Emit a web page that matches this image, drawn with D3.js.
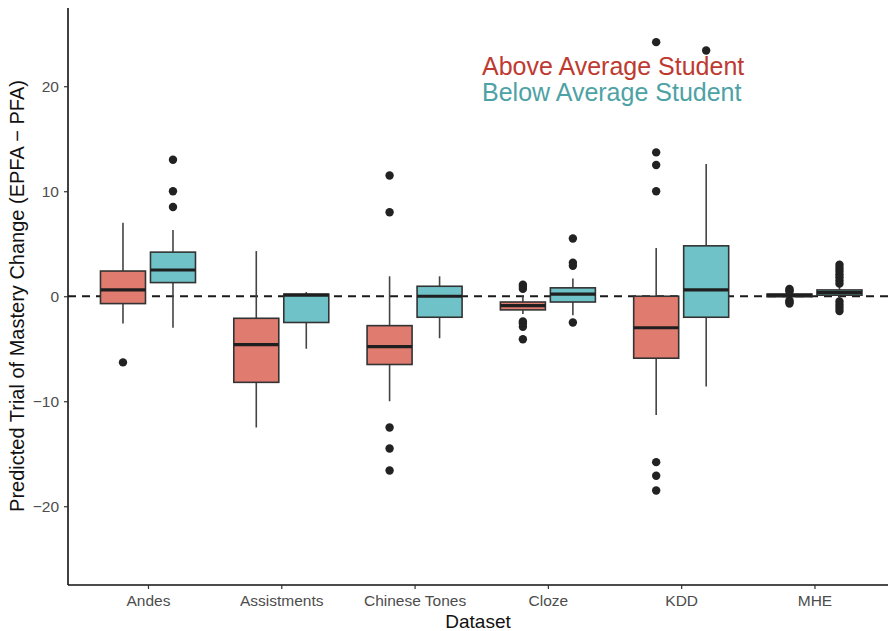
<!DOCTYPE html>
<html>
<head>
<meta charset="utf-8">
<script src="https://cdn.jsdelivr.net/npm/d3@7"></script>
<style>
  html, body { margin: 0; padding: 0; background: #fff; }
  svg { display: block; font-family: "Liberation Sans", Arial, Helvetica, sans-serif; }
</style>
</head>
<body>
<svg id="chart" width="888" height="631"></svg>
<script>
// Datasets on the x axis
const categories = ["Andes", "Assistments", "Chinese Tones", "Cloze", "KDD", "MHE"];
const groups = ["Above Average Student", "Below Average Student"];

// Box statistics per dataset: [lower whisker, Q1, median, Q3, upper whisker]
const aboveStats = [
  [-2.6, -0.7, 0.6, 2.4, 7.0],
  [-12.5, -8.2, -4.6, -2.1, 4.3],
  [-10.0, -6.5, -4.8, -2.8, 1.9],
  [-1.7, -1.3, -0.9, -0.55, 0.0],
  [-11.3, -5.9, -3.0, 0.0, 4.6],
  [-0.25, -0.05, 0.1, 0.2, 0.35]
];
const belowStats = [
  [-3.0, 1.3, 2.5, 4.2, 6.3],
  [-5.0, -2.5, 0.1, 0.2, 0.4],
  [-4.0, -2.0, 0.0, 0.95, 1.9],
  [-1.8, -0.55, 0.2, 0.8, 1.7],
  [-8.6, -2.0, 0.6, 4.8, 12.6],
  [-0.3, 0.1, 0.35, 0.6, 0.9]
];

// Outlying points per dataset
const aboveOutliers = [
  [-6.3],
  [],
  [11.5, 8.0, -12.5, -14.5, -16.6],
  [1.1, 0.9, 0.7, -2.4, -2.6, -2.9, -4.1],
  [24.2, 13.7, 12.5, 10.0, -15.8, -17.1, -18.5],
  [0.7, 0.55, 0.45, -0.4, -0.55, -0.7]
];
const belowOutliers = [
  [13.0, 10.0, 8.5],
  [],
  [],
  [5.5, 3.2, 2.9, -2.5],
  [23.4],
  [3.0, 2.7, 2.4, 2.1, 1.8, 1.5, 1.2, -0.5, -0.8, -1.1, -1.4]
];

// Tick values on the y axis
const yTicks = [-20, -10, 0, 10, 20];

const fills = ["#E07B6F", "#6FC3C8"];
const legendColors = ["#BE3A31", "#4DA2A5"];

const svg = d3.select("#chart");
const margin = { left: 68, top: 8, bottom: 46 };
const H = 631;

// Discrete axis padded by 0.6 of a step on each side
const step = 133.3;
const x = d3.scaleLinear()
  .domain([0, categories.length - 1])
  .range([margin.left + 0.6 * step, margin.left + 0.6 * step + step * (categories.length - 1)]);
const y = d3.scaleLinear().domain([-27.5, 27.45]).range([H - margin.bottom, margin.top]);

const dodge = 25;   // half distance between paired boxes
const boxW = 45;

// Reference line at zero
svg.append("line")
  .attr("x1", margin.left).attr("x2", 888)
  .attr("y1", y(0)).attr("y2", y(0))
  .attr("stroke", "#1a1a1a").attr("stroke-width", 2)
  .attr("stroke-dasharray", "8,6");

const series = [
  { stats: aboveStats, outliers: aboveOutliers, off: -dodge, fill: fills[0] },
  { stats: belowStats, outliers: belowOutliers, off: dodge, fill: fills[1] }
];

series.forEach(s => {
  const g = svg.append("g");
  s.stats.forEach((st, i) => {
    const cx = x(i) + s.off;
    const [lo, q1, med, q3, hi] = st;
    // whiskers
    g.append("line").attr("x1", cx).attr("x2", cx).attr("y1", y(hi)).attr("y2", y(q3))
      .attr("stroke", "#444").attr("stroke-width", 1.6);
    g.append("line").attr("x1", cx).attr("x2", cx).attr("y1", y(q1)).attr("y2", y(lo))
      .attr("stroke", "#444").attr("stroke-width", 1.6);
    // box
    g.append("rect")
      .attr("x", cx - boxW / 2).attr("width", boxW)
      .attr("y", y(q3)).attr("height", Math.max(1, y(q1) - y(q3)))
      .attr("fill", s.fill).attr("stroke", "#333").attr("stroke-width", 1.6);
    // median
    g.append("line").attr("x1", cx - boxW / 2).attr("x2", cx + boxW / 2)
      .attr("y1", y(med)).attr("y2", y(med))
      .attr("stroke", "#1f1f1f").attr("stroke-width", 3.2);
    // outliers
    s.outliers[i].forEach(v => {
      g.append("circle").attr("cx", cx).attr("cy", y(v)).attr("r", 4.2).attr("fill", "#222");
    });
  });
});

// Y axis
const yAxis = svg.append("g").attr("transform", `translate(${margin.left},0)`)
  .call(d3.axisLeft(y).tickValues(yTicks).tickSize(4).tickPadding(5)
    .tickFormat(d => d < 0 ? "\u2212" + Math.abs(d) : d));
yAxis.select(".domain").attr("stroke", "#111").attr("stroke-width", 1.6)
  .attr("d", `M0,${y.range()[1]}V${y.range()[0]}`);
yAxis.selectAll(".tick line").attr("stroke", "#333").attr("stroke-width", 1.2);
yAxis.selectAll(".tick text").attr("fill", "#4d4d4d").style("font-size", "15.5px");

// X axis
const xAxis = svg.append("g").attr("transform", `translate(0,${y.range()[0]})`)
  .call(d3.axisBottom(x).tickValues(d3.range(categories.length)).tickSize(4).tickPadding(6)
    .tickFormat(i => categories[i]));
xAxis.select(".domain").attr("stroke", "#111").attr("stroke-width", 1.6)
  .attr("d", `M${margin.left},0H888`);
xAxis.selectAll(".tick line").attr("stroke", "#333").attr("stroke-width", 1.2);
xAxis.selectAll(".tick text").attr("fill", "#4d4d4d").style("font-size", "15.5px");

// Axis titles
svg.append("text")
  .attr("x", 478).attr("y", 628)
  .attr("text-anchor", "middle").attr("fill", "#111").style("font-size", "19px")
  .text("Dataset");
svg.append("text")
  .attr("transform", `translate(24,${296}) rotate(-90)`)
  .attr("text-anchor", "middle").attr("fill", "#111").style("font-size", "20px")
  .text("Predicted Trial of Mastery Change (EPFA \u2212 PFA)");

// Legend written as coloured text
groups.forEach((name, k) => {
  svg.append("text")
    .attr("x", 482).attr("y", 75 + k * 25.5)
    .attr("fill", legendColors[k]).style("font-size", "25px")
    .text(name);
});
</script>
</body>
</html>
